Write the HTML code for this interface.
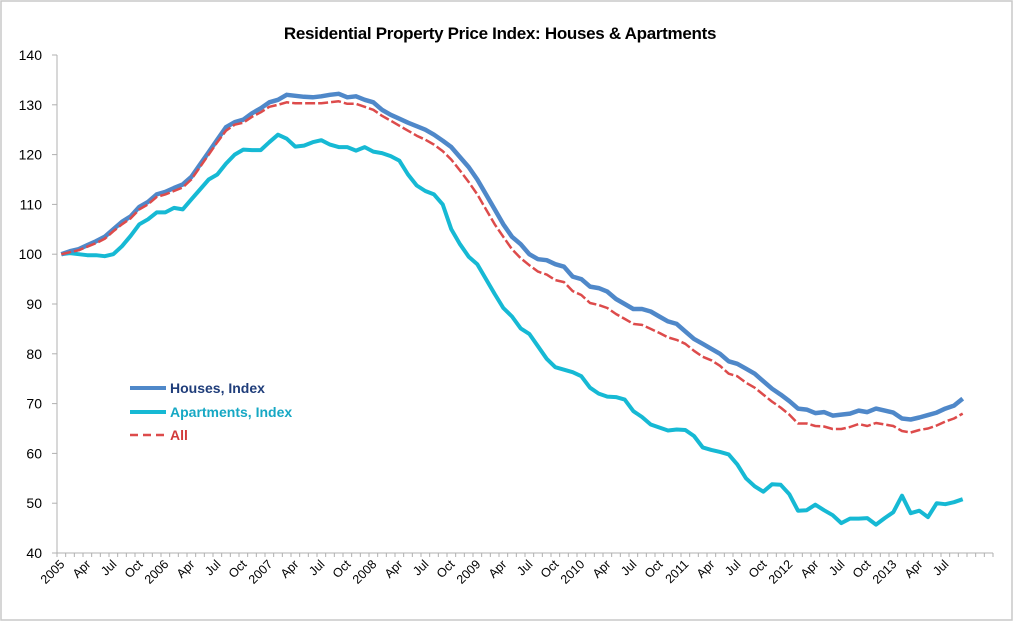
<!DOCTYPE html>
<html><head><meta charset="utf-8"><style>
body{margin:0;background:#fff;}
svg{display:block;font-family:"Liberation Sans",sans-serif;}
</style></head><body>
<svg id="chart" width="1015" height="623">
<rect x="1" y="1" width="1011" height="619" fill="#fff" stroke="#c8c8c8" stroke-width="1.5"/>
<text x="500" y="39" text-anchor="middle" font-size="17" font-weight="bold" fill="#000" letter-spacing="-0.3">Residential Property Price Index: Houses &amp; Apartments</text>
<g id="axes"></g>
<g id="series"></g>
<g>
<line x1="130" y1="388" x2="166" y2="388" stroke="#4f88c9" stroke-width="4"/>
<text x="170" y="393" font-size="14" font-weight="bold" fill="#1f3d7a">Houses, Index</text>
<line x1="130" y1="412" x2="166" y2="412" stroke="#16b9d4" stroke-width="4"/>
<text x="170" y="417" font-size="14" font-weight="bold" fill="#16a8c4">Apartments, Index</text>
<line x1="130" y1="435" x2="166" y2="435" stroke="#dd4b4b" stroke-width="2.5" stroke-dasharray="8,5"/>
<text x="170" y="440" font-size="14" font-weight="bold" fill="#d23a3a">All</text>
</g>
</svg>
<script>
const yTicks=[40,50,60,70,80,90,100,110,120,130,140];
const quarterLabels=["2005","Apr","Jul","Oct","2006","Apr","Jul","Oct","2007","Apr","Jul","Oct","2008","Apr","Jul","Oct","2009","Apr","Jul","Oct","2010","Apr","Jul","Oct","2011","Apr","Jul","Oct","2012","Apr","Jul","Oct","2013","Apr","Jul"];
const houses=[100,100.6,101,101.8,102.6,103.5,105,106.5,107.6,109.5,110.5,112,
112.5,113.3,114,115.5,118,120.5,123,125.5,126.5,127,128.3,129.3,
130.5,131,132,131.8,131.6,131.5,131.7,132,132.2,131.5,131.7,131,
130.5,129,128,127.2,126.4,125.7,125,124,122.8,121.5,119.5,117.5,
115,112,109,106,103.5,102,100,99,98.8,98,97.5,95.5,
95,93.5,93.2,92.5,91,90,89,89,88.5,87.5,86.5,86,
84.5,83,82,81,80,78.5,78,77,76,74.5,73,71.8,
70.5,69,68.8,68.1,68.3,67.6,67.8,68,68.6,68.3,69,68.6,
68.2,67,66.8,67.2,67.7,68.2,69,69.6,71];
const apartments=[100,100.2,100,99.8,99.8,99.6,100,101.6,103.7,106,107,108.4,
108.4,109.3,109,111,113,115,116,118.2,120,121,120.9,120.9,
122.5,124,123.2,121.6,121.8,122.5,122.9,122,121.5,121.5,120.8,121.5,
120.6,120.3,119.7,118.8,116,113.8,112.7,112,110,105,102,99.5,
98,95,92,89.2,87.5,85.1,84,81.5,79,77.3,76.8,76.3,
75.5,73.2,72,71.4,71.3,70.8,68.5,67.3,65.8,65.2,64.6,64.8,
64.7,63.5,61.2,60.7,60.3,59.8,57.8,55,53.4,52.3,53.8,53.7,
51.8,48.5,48.6,49.7,48.6,47.6,46,46.9,46.9,47,45.7,47,
48.2,51.5,48,48.5,47.2,50,49.8,50.2,50.8];
const allIdx=[100,100.4,100.8,101.5,102.2,103.1,104.6,106,107.2,109,110,111.5,
112,112.7,113.4,115,117.5,120,122.5,124.8,126,126.4,127.6,128.5,
129.6,130,130.5,130.3,130.3,130.3,130.3,130.5,130.7,130.2,130.2,129.6,
129,127.8,126.8,125.8,124.8,123.8,123,122,120.7,119,116.8,114.5,
112,109,106,103.5,101,99.2,97.8,96.5,95.9,94.8,94.4,92.6,
91.8,90.2,89.8,89.2,88,87,86,85.8,85,84.2,83.3,82.8,
82,80.6,79.4,78.7,77.6,76,75.5,74.2,73.2,71.8,70.4,69.2,
67.8,66,66,65.5,65.4,64.9,64.9,65.3,65.9,65.5,66.1,65.8,
65.5,64.5,64.2,64.7,65,65.6,66.4,67,68];
const NS="http://www.w3.org/2000/svg";
const X0=57,X1=993,NCAT=108,Y0=553,Y1=55,VMIN=40,VMAX=140;
const step=(X1-X0)/NCAT;
function xPos(i){return X0+step*(i+0.5);}
function yPos(v){return Y0-(v-VMIN)/(VMAX-VMIN)*(Y0-Y1);}
function mk(tag,attrs,parent){const e=document.createElementNS(NS,tag);for(const k in attrs)e.setAttribute(k,attrs[k]);parent.appendChild(e);return e;}
const axes=document.getElementById('axes');
const yl=mk('line',{x1:X0,y1:Y1,x2:X0,y2:Y0,stroke:'#b0b0b0','stroke-width':1},axes);


const xl=mk('line',{x1:X0,y1:Y0,x2:X1,y2:Y0,stroke:'#b0b0b0','stroke-width':1},axes);


yTicks.forEach(v=>{
  const y=yPos(v);
  const t=mk('line',{x1:X0-5,y1:y,x2:X0,y2:y,stroke:'#b0b0b0'},axes);
  
  
  const tx=mk('text',{x:42,y:y+5,'text-anchor':'end','font-size':14,fill:'#000'},axes);
  tx.textContent=v;
  
  
});
for(let i=0;i<=NCAT;i++){
  const x=X0+step*i;
  const t=mk('line',{x1:x,y1:Y0,x2:x,y2:Y0+4,stroke:'#b0b0b0'},axes);
  
  
}
quarterLabels.forEach((lab,q)=>{
  const x=xPos(q*3)+4,y=Y0+12;
  const tx=mk('text',{x:x,y:y,'text-anchor':'end','font-size':12.5,fill:'#000',transform:`rotate(-45 ${x} ${y})`},axes);
  tx.textContent=lab;
  
  
});
const series=document.getElementById('series');
function line(data,color,w,dash,name){
  const d=data.map((v,i)=>(i?'L':'M')+xPos(i).toFixed(1)+','+yPos(v).toFixed(1)).join('');
  const p=mk('path',{d:d,fill:'none',stroke:color,'stroke-width':w,'stroke-linejoin':'round'},series);
  if(dash)p.setAttribute('stroke-dasharray',dash);
  
  
}
line(apartments,'#16b9d4',4,null,'apartments-line');
line(houses,'#4f88c9',4.5,null,'houses-line');
line(allIdx,'#dd4b4b',2.5,'10,3','all-line');
</script>
</body></html>
